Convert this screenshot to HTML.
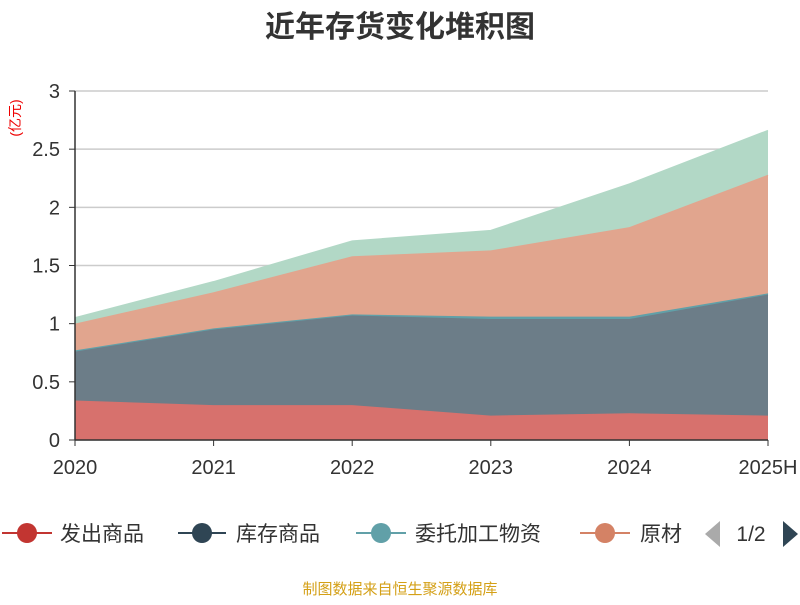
<!DOCTYPE html>
<html><head><meta charset="utf-8"><style>
body{margin:0;background:#fff;}
svg text{font-family:"Liberation Sans","Noto Sans CJK SC",sans-serif;}
</style></head><body>
<svg width="800" height="600" viewBox="0 0 800 600">
<text x="400" y="37" text-anchor="middle" font-size="30" font-weight="bold" fill="#333">近年存货变化堆积图</text>
<text transform="translate(20,118) rotate(-90)" text-anchor="middle" font-size="14" fill="#e00">(亿元)</text>
<g id="grid"></g><g id="areas"></g><g id="axes"></g>
<g>
<g><line x1="2" y1="533" x2="52" y2="533" stroke="#c23531" stroke-width="2"/><circle cx="27" cy="533" r="10" fill="#c23531"/><text x="60" y="541" font-size="21" fill="#333">发出商品</text></g>
<g><line x1="178" y1="533" x2="226" y2="533" stroke="#2f4554" stroke-width="2"/><circle cx="202" cy="533" r="10" fill="#2f4554"/><text x="236" y="541" font-size="21" fill="#333">库存商品</text></g>
<g><line x1="356" y1="533" x2="406" y2="533" stroke="#61a0a8" stroke-width="2"/><circle cx="381" cy="533" r="10" fill="#61a0a8"/><text x="415" y="541" font-size="21" fill="#333">委托加工物资</text></g>
<g><line x1="580" y1="533" x2="630" y2="533" stroke="#d48265" stroke-width="2"/><circle cx="605" cy="533" r="10" fill="#d48265"/><text x="640" y="541" font-size="21" fill="#333">原材</text><rect x="683" y="515" width="20" height="36" fill="#fff"/></g>
<polygon points="720,521 720,547 705,534" fill="#aaa"/>
<text x="751" y="541" font-size="21" fill="#333" text-anchor="middle">1/2</text>
<polygon points="783,521 783,547 798,534" fill="#2f4554"/>
</g>
<text x="400" y="594" text-anchor="middle" font-size="15" fill="#d4a017">制图数据来自恒生聚源数据库</text>
</svg>
<script>
const categories=["2020","2021","2022","2023","2024","2025H"];
const fachu=[0.34,0.30,0.30,0.21,0.23,0.21];
const kucun=[0.42,0.65,0.77,0.83,0.81,1.04];
const weituo=[0.01,0.01,0.01,0.02,0.02,0.01];
const yuancailiao=[0.23,0.31,0.50,0.57,0.77,1.02];
const other=[0.05,0.09,0.13,0.17,0.37,0.38];
const yTicks=[0,0.5,1,1.5,2,2.5,3];
const yTickLabels=["0","0.5","1","1.5","2","2.5","3"];
const NS="http://www.w3.org/2000/svg";
const X0=75,X1=768,Y0=440,Y1=91,YMAX=3;
const xs=i=>X0+i*(X1-X0)/(categories.length-1);
const ys=v=>Y0-v/YMAX*(Y0-Y1);
const grid=document.getElementById('grid'),areas=document.getElementById('areas'),axes=document.getElementById('axes');
function mk(t,a,p){const e=document.createElementNS(NS,t);for(const k in a)e.setAttribute(k,a[k]);p.appendChild(e);return e;}
yTicks.forEach((v,i)=>{
 const l=mk('line',{x1:X0,x2:X1,y1:ys(v),y2:ys(v),stroke:'#ccc','stroke-width':1.5},grid);
 
 
 const t=mk('text',{x:60,y:ys(v)+7,'text-anchor':'end','font-size':20,fill:'#333'},axes);
 t.textContent=yTickLabels[i];
 
 
 mk('line',{x1:X0-6,x2:X0,y1:ys(v),y2:ys(v),stroke:'#333'},axes);
});
const series=[[fachu,'#d7716d','area-fachu'],[kucun,'#6c7d88','area-kucun'],[weituo,'#61a0a8','area-weituo'],[yuancailiao,'#e1a58e','area-yuancailiao'],[other,'#b2d8c6','area-other']];
let base=categories.map(()=>0);
series.forEach(([d,c,n])=>{
 const top=base.map((b,i)=>b+d[i]);
 let pts=top.map((v,i)=>xs(i)+','+ys(v));
 for(let i=categories.length-1;i>=0;i--)pts.push(xs(i)+','+ys(base[i]));
 const p=mk('polygon',{points:pts.join(' '),fill:c},areas);
 
 
 const pl=mk('polyline',{points:top.map((v,i)=>xs(i)+','+ys(v)).join(' '),fill:'none',stroke:c,'stroke-width':1.5},areas);
 
 
 base=top;
});
mk('line',{x1:X0,x2:X0,y1:Y1,y2:Y0,stroke:'#333','stroke-width':1.5},axes);
mk('line',{x1:X0,x2:X1,y1:Y0,y2:Y0,stroke:'#333','stroke-width':1.5},axes);
categories.forEach((c,i)=>{
 mk('line',{x1:xs(i),x2:xs(i),y1:Y0,y2:Y0+6,stroke:'#333'},axes);
 const t=mk('text',{x:xs(i),y:474,'text-anchor':'middle','font-size':20,fill:'#333'},axes);
 t.textContent=c;
 
 
});
</script>
</body></html>
